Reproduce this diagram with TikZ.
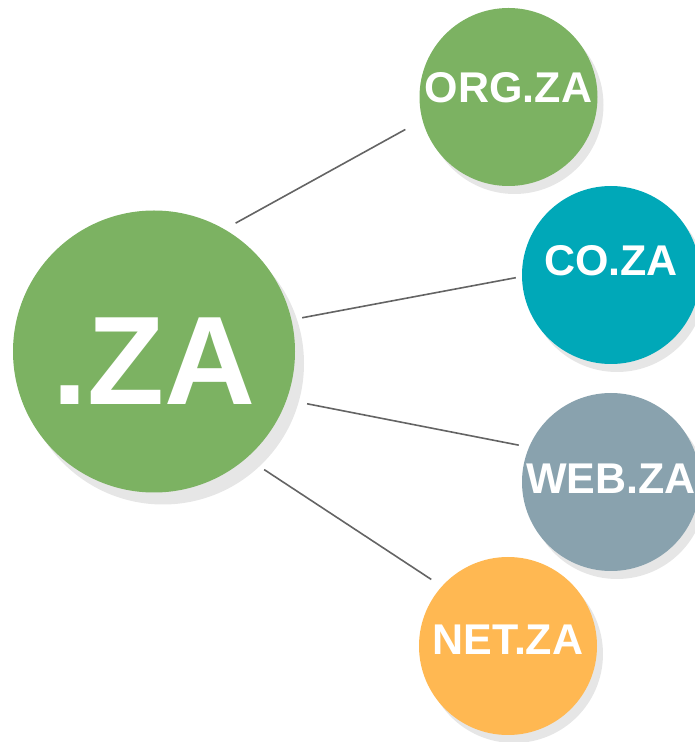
\documentclass[tikz,border=0pt]{standalone}
\usepackage{fontspec}
\setmainfont{Liberation Sans}
\usetikzlibrary{shadows}
\definecolor{zagreen}{RGB}{124,178,98}
\definecolor{zateal}{RGB}{0,168,184}
\definecolor{zaslate}{RGB}{137,162,174}
\definecolor{zaorange}{RGB}{255,184,82}
\definecolor{shadegrey}{RGB}{230,230,230}
\definecolor{linegrey}{RGB}{100,100,100}

\begin{document}
\begin{tikzpicture}[x=1pt,y=1pt,
  bubble/.style={circle,minimum size=178pt,inner sep=0pt,
    drop shadow={shadow xshift=6pt,shadow yshift=-8pt,fill=shadegrey,opacity=1}},
  tag/.style={text=white,font=\bfseries\fontsize{43}{43}\selectfont,inner sep=0pt},
  link/.style={draw=linegrey,line width=1.6pt}]
  \useasboundingbox (0,0) rectangle (694,742);

  \node (za) [circle,minimum size=282pt,inner sep=0pt,fill=zagreen,
    drop shadow={shadow xshift=9pt,shadow yshift=-12pt,fill=shadegrey,opacity=1},
    label={[tag,font=\bfseries\fontsize{126}{126}\selectfont,yshift=-10pt]center:.ZA}] at (154,390.5) {};

  \node (org) [bubble,fill=zagreen,label={[tag,yshift=9.5pt]center:ORG.ZA}] at (508.5,645) {};
  \node (co) [bubble,fill=zateal,label={[tag,yshift=14pt]center:CO.ZA}] at (611,467) {};
  \node (web) [bubble,fill=zaslate,label={[tag,yshift=3pt]center:WEB.ZA}] at (611,260) {};
  \node (net) [bubble,fill=zaorange,label={[tag,yshift=6pt]center:NET.ZA}] at (508,96) {};

  \path[link]
    (za.60) edge [shorten <=12.6pt,shorten >=19.4pt] (org.195)
    (za.13) edge [shorten <=10.8pt,shorten >=6.1pt] (co.181)
    (za.340) edge [shorten <=20.8pt,shorten >=10.3pt] (web.157)
    (za.311) edge [shorten <=21pt,shorten >=12.5pt] (net.138);
    %links do not touch the circles
\end{tikzpicture}
\end{document}
